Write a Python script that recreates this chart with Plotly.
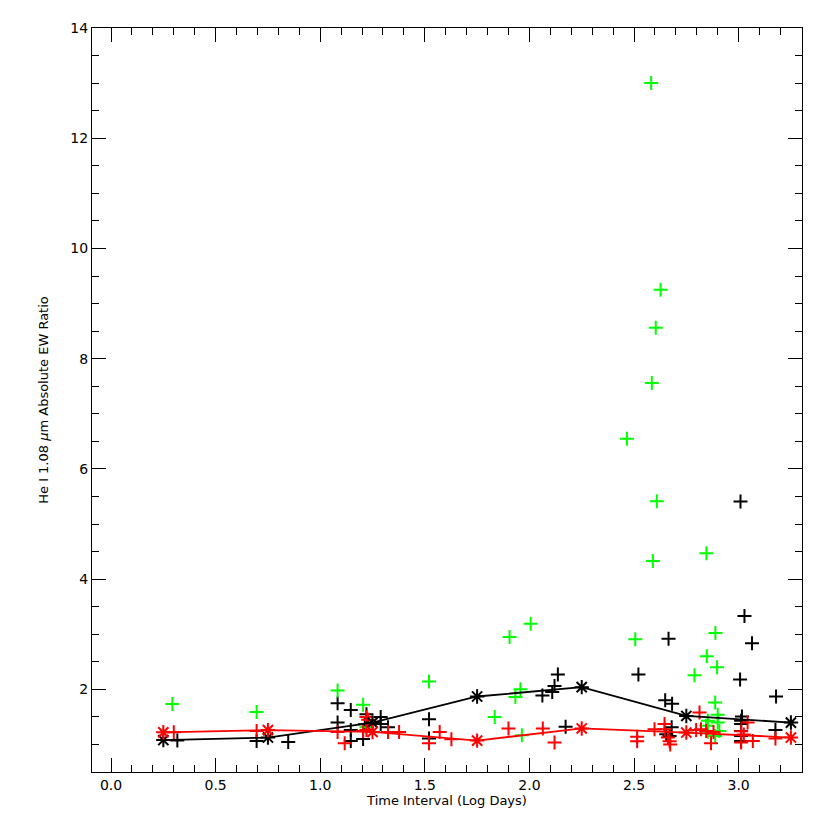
import plotly.graph_objects as go

# Black crosses
black_x = [0.317, 0.696, 0.847, 1.083, 1.083, 1.146, 1.146, 1.146, 1.205, 1.221,
           1.213, 1.289, 1.289, 1.324, 1.520, 1.520, 2.062, 2.109, 2.120, 2.136,
           2.173, 2.521, 2.665, 2.649, 2.682, 2.680, 2.654, 2.670, 3.028, 3.064,
           3.007, 3.179, 3.016, 3.012, 3.012, 3.012, 3.012, 3.012, 3.176, 3.009]
black_y = [1.07, 1.064, 1.045, 1.747, 1.397, 1.626, 1.26, 1.064, 1.10, 1.55,
           1.366, 1.50, 1.37, 1.31, 1.457, 1.107, 1.89, 1.95, 2.06, 2.27,
           1.32, 2.27, 2.92, 1.80, 1.74, 1.31, 1.185, 1.155, 3.33, 2.835,
           2.18, 1.87, 1.506, 1.43, 1.37, 1.245, 1.155, 1.064, 1.26, 5.41]

# Red crosses
red_x = [0.30, 0.696, 1.083, 1.117, 1.205, 1.221, 1.229, 1.221, 1.324, 1.377,
         1.520, 1.571, 1.627, 1.90, 2.064, 2.12, 2.515, 2.515, 2.598, 2.646,
         2.646, 2.662, 2.67, 2.673, 2.797, 2.813, 2.82, 2.845, 2.88, 2.868,
         3.043, 3.012, 3.025, 3.068, 3.012, 3.176]
red_y = [1.22, 1.245, 1.227, 1.02, 1.245, 1.50, 1.45, 1.26, 1.227, 1.227,
         1.02, 1.227, 1.095, 1.29, 1.29, 1.035, 1.14, 1.06, 1.275, 1.37,
         1.275, 1.125, 1.06, 1.0, 1.26, 1.58, 1.275, 1.245, 1.227, 1.02,
         1.397, 1.24, 1.18, 1.064, 1.035, 1.107]

# Green crosses
green_x = [0.293, 0.696, 1.083, 1.205, 1.221, 1.52, 1.834, 1.905, 1.933, 1.957,
           1.964, 2.006, 2.506, 2.582, 2.627, 2.604, 2.585, 2.466, 2.609, 2.590,
           2.846, 2.889, 2.848, 2.897, 2.789, 2.888, 2.90, 2.853, 2.90, 2.845,
           2.908, 2.888, 2.853]
green_y = [1.735, 1.59, 1.98, 1.72, 1.31, 2.14, 1.5, 2.95, 1.86, 2.0,
           1.167, 3.19, 2.91, 13.0, 9.25, 8.56, 7.56, 6.545, 5.415, 4.33,
           4.47, 3.02, 2.60, 2.40, 2.255, 1.76, 1.54, 1.43, 1.40, 1.34,
           1.245, 1.155, 1.23]

# Binned means
bin_x = [0.25, 0.75, 1.25, 1.75, 2.25, 2.75, 3.25]
black_mean = [1.08, 1.125, 1.397, 1.87, 2.04, 1.517, 1.397]
red_mean = [1.22, 1.26, 1.227, 1.07, 1.29, 1.216, 1.125]

x_ticks = [0.0, 0.5, 1.0, 1.5, 2.0, 2.5, 3.0]
x_ticklabels = ["0.0", "0.5", "1.0", "1.5", "2.0", "2.5", "3.0"]
y_ticks = [2, 4, 6, 8, 10, 12, 14]

GREEN = "#00ff00"
RED = "#ff0000"
BLACK = "#000000"

fig = go.Figure()

def crosses(x, y, color):
    return go.Scatter(x=x, y=y, mode="markers", showlegend=False,
                      marker=dict(symbol="cross-thin", size=10,
                                  line=dict(color=color, width=2)))

fig.add_trace(crosses(black_x, black_y, BLACK))
fig.add_trace(crosses(green_x, green_y, GREEN))
fig.add_trace(crosses(red_x, red_y, RED))

for ys, col in [(black_mean, BLACK), (red_mean, RED)]:
    fig.add_trace(go.Scatter(x=bin_x, y=ys, mode="lines+markers", showlegend=False,
                             line=dict(color=col, width=1.8),
                             marker=dict(symbol="asterisk", size=12,
                                         line=dict(color=col, width=2))))

font = dict(family="DejaVu Sans", size=14, color="black")

fig.update_layout(
    width=830, height=830,
    margin=dict(l=84, r=36, t=20, b=66),
    plot_bgcolor="white", paper_bgcolor="white",
    font=font,
    xaxis=dict(range=[-0.091, 3.303], tickvals=x_ticks, ticktext=x_ticklabels,
               ticks="inside", ticklen=14, tickwidth=1, tickcolor="black",
               showline=True, linecolor="black", linewidth=1, mirror="ticks",
               showgrid=False, zeroline=False,
               minor=dict(dtick=0.1, tick0=0, ticks="inside", ticklen=7,
                          tickcolor="black", showgrid=False),
               title=dict(text="Time Interval (Log Days)", standoff=2,
                          font=dict(family="DejaVu Sans", size=13))),
    yaxis=dict(range=[0.5, 14], tickvals=y_ticks,
               ticks="inside", ticklen=14, tickwidth=1, tickcolor="black",
               showline=True, linecolor="black", linewidth=1, mirror="ticks",
               showgrid=False, zeroline=False,
               minor=dict(dtick=0.5, tick0=0, ticks="inside", ticklen=7,
                          tickcolor="black", showgrid=False),
               title=dict(text="He I 1.08 <i>μ</i>m Absolute EW Ratio", standoff=18,
                          font=dict(family="DejaVu Sans", size=13))),
)

fig.write_html("out.html")
